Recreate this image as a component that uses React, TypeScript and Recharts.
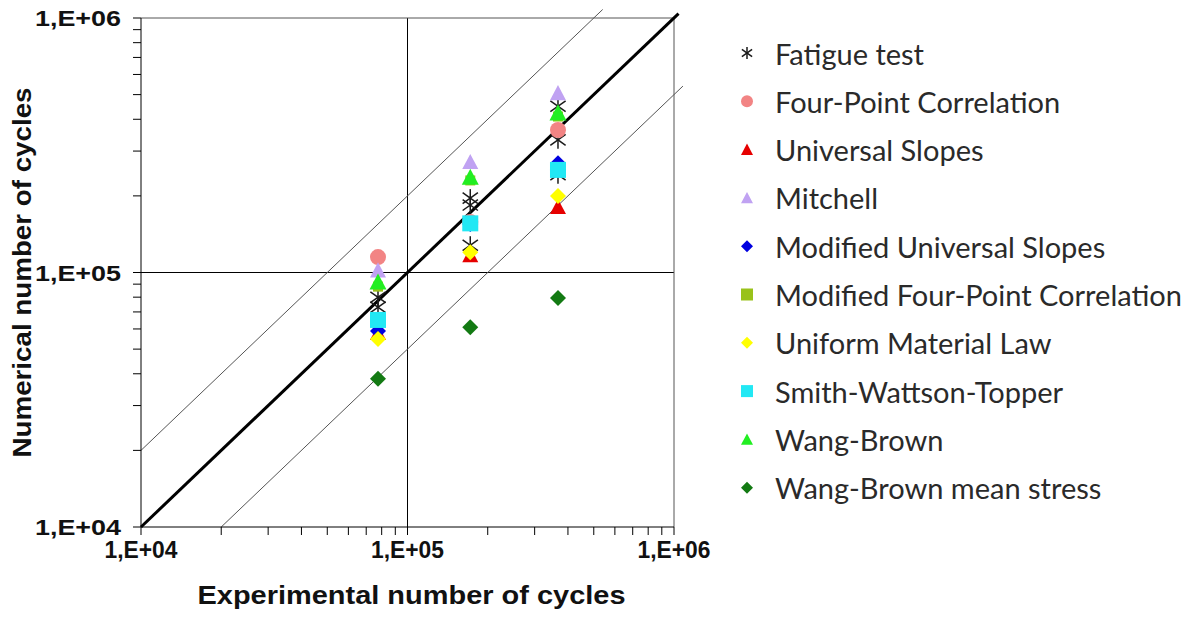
import React from 'react';
import {
  ScatterChart,
  Scatter,
  XAxis,
  YAxis,
  ReferenceLine,
  Legend,
  Label,
} from 'recharts';

// experimental life of the three load levels
const expCycles = [7.75e4, 1.72e5, 3.67e5];

// predicted lives, one value per load level
const fourPoint = [1.15e5, 1.58e5, 3.63e5];
const universalSlopes = [5.8e4, 1.17e5, 1.81e5];
const mitchell = [1.02e5, 2.72e5, 5.07e5];
const modUniversalSlopes = [5.89e4, 1.55e5, 2.69e5];
const modFourPoint = [8.8e4, 2.3e5, 4.1e5];
const uniformMaterial = [5.48e4, 1.2e5, 2.0e5];
const swt = [6.51e4, 1.56e5, 2.53e5];
const wangBrown = [9.18e4, 2.37e5, 4.24e5];
const wangBrownMean = [3.82e4, 6.1e4, 7.94e4];

// fatigue test results (x = experimental level, y = specimen result)
const testX = [7.75e4, 7.75e4, 1.72e5, 1.72e5, 1.72e5, 3.67e5, 3.67e5, 3.67e5];
const testY = [8.0e4, 7.3e4, 1.96e5, 1.84e5, 1.28e5, 4.5e5, 3.32e5, 2.42e5];

// scatter band lines
const diagLine = [{ x: 1e4, y: 1e4 }, { x: 1.04e6, y: 1.04e6 }];
const upperLine = [{ x: 1e4, y: 2e4 }, { x: 5.4e5, y: 1.08e6 }];
const lowerLine = [{ x: 2e4, y: 1e4 }, { x: 1.08e6, y: 5.4e5 }];

const majorTicks = [1e4, 1e5, 1e6];
const tickLabels = ['1,E+04', '1,E+05', '1,E+06'];
const minorTicks = [2e4, 3e4, 4e4, 5e4, 6e4, 7e4, 8e4, 9e4, 2e5, 3e5, 4e5, 5e5, 6e5, 7e5, 8e5, 9e5];
const allTicks = [...majorTicks, ...minorTicks].sort((a, b) => a - b);

const toPoints = (xs: number[], ys: number[]) => ys.map((y, i) => ({ x: xs[i], y }));

type Kind = 'star' | 'circle' | 'triangle' | 'diamond' | 'square';

const series: { name: string; kind: Kind; color: string; size: number; data: { x: number; y: number }[] }[] = [
  { name: 'Fatigue test', kind: 'star', color: '#1a1a1a', size: 9, data: toPoints(testX, testY) },
  { name: 'Four-Point Correlation', kind: 'circle', color: '#f28484', size: 8, data: toPoints(expCycles, fourPoint) },
  { name: 'Universal Slopes', kind: 'triangle', color: '#e60000', size: 8, data: toPoints(expCycles, universalSlopes) },
  { name: 'Mitchell', kind: 'triangle', color: '#c0a2f2', size: 8, data: toPoints(expCycles, mitchell) },
  { name: 'Modified Universal Slopes', kind: 'diamond', color: '#0000e0', size: 8, data: toPoints(expCycles, modUniversalSlopes) },
  { name: 'Modified Four-Point Correlation', kind: 'square', color: '#99c21a', size: 5, data: toPoints(expCycles, modFourPoint) },
  { name: 'Uniform Material Law', kind: 'diamond', color: '#ffff00', size: 8, data: toPoints(expCycles, uniformMaterial) },
  { name: 'Smith-Wattson-Topper', kind: 'square', color: '#22e8f4', size: 8, data: toPoints(expCycles, swt) },
  { name: 'Wang-Brown', kind: 'triangle', color: '#22ee22', size: 8.5, data: toPoints(expCycles, wangBrown) },
  { name: 'Wang-Brown mean stress', kind: 'diamond', color: '#137a13', size: 8, data: toPoints(expCycles, wangBrownMean) },
];

const marker = (kind: Kind, color: string, cx: number, cy: number, s: number) => {
  switch (kind) {
    case 'star':
      return (
        <g stroke={color} strokeWidth={1.5}>
          <line x1={cx} y1={cy - s} x2={cx} y2={cy + s} />
          <line x1={cx - s * 0.85} y1={cy - s * 0.6} x2={cx + s * 0.85} y2={cy + s * 0.6} />
          <line x1={cx - s * 0.85} y1={cy + s * 0.6} x2={cx + s * 0.85} y2={cy - s * 0.6} />
        </g>
      );
    case 'circle':
      return <circle cx={cx} cy={cy} r={s} fill={color} />;
    case 'triangle':
      return <polygon points={`${cx},${cy - s} ${cx - s},${cy + s * 0.9} ${cx + s},${cy + s * 0.9}`} fill={color} />;
    case 'diamond':
      return <polygon points={`${cx},${cy - s} ${cx + s},${cy} ${cx},${cy + s} ${cx - s},${cy}`} fill={color} />;
    default:
      return <rect x={cx - s} y={cy - s} width={s * 2} height={s * 2} fill={color} />;
  }
};

const renderLegend = () => (
  <svg width={465} height={500}>
    {series.map((s, i) => (
      <g key={s.name}>
        {marker(s.kind, s.color, 17, 23 + i * 48.3, 6)}
        <text
          x={45}
          y={23 + i * 48.3}
          dominantBaseline="central"
          fontFamily="Lato, 'Open Sans', sans-serif"
          fontSize={29}
          fill="#2a2a2a"
        >
          {s.name}
        </text>
      </g>
    ))}
  </svg>
);

const XTick = ({ x, y, payload }: any) => {
  const idx = majorTicks.indexOf(payload.value);
  if (idx < 0) return null;
  return (
    <text x={x} y={y + 21} textAnchor="middle" fontFamily="'Liberation Sans', Arial, sans-serif" fontWeight="bold" fontSize={23} fill="#111" textLength={73} lengthAdjust="spacingAndGlyphs">
      {tickLabels[idx]}
    </text>
  );
};

const YTick = ({ x, y, payload }: any) => {
  const idx = majorTicks.indexOf(payload.value);
  if (idx < 0) return null;
  return (
    <text x={x - 10} y={y} dy={8} textAnchor="end" fontFamily="'Liberation Sans', Arial, sans-serif" fontWeight="bold" fontSize={22} fill="#111" textLength={86} lengthAdjust="spacingAndGlyphs">
      {tickLabels[idx]}
    </text>
  );
};

export default function App() {
  return (
    <div style={{ position: 'absolute', left: 0, top: 0, width: 1195, height: 621, background: '#fff' }}>
      <ScatterChart width={1195} height={621} margin={{ top: 18, right: 521, bottom: 0, left: 0 }}>
        <XAxis
          dataKey="x"
          type="number"
          scale="log"
          domain={[1e4, 1e6]}
          allowDataOverflow
          ticks={allTicks}
          interval={0}
          height={94}
          tickSize={8}
          stroke="#000"
          tick={<XTick />}
        >
          <Label
            content={({ viewBox }: any) => (
              <text
                x={viewBox.x + viewBox.width / 2 + 4}
                y={604}
                textAnchor="middle"
                fontFamily="'Liberation Sans', Arial, sans-serif"
                fontWeight="bold"
                fontSize={26}
                fill="#111"
                textLength={428}
                lengthAdjust="spacingAndGlyphs"
              >
                Experimental number of cycles
              </text>
            )}
          />
        </XAxis>
        <YAxis
          dataKey="y"
          type="number"
          scale="log"
          domain={[1e4, 1e6]}
          allowDataOverflow
          ticks={allTicks}
          interval={0}
          width={141}
          tickSize={8}
          stroke="#000"
          tick={<YTick />}
        >
          <Label
            content={({ viewBox }: any) => {
              const cy = viewBox.y + viewBox.height / 2;
              return (
                <text
                  x={22}
                  y={cy}
                  transform={`rotate(-90, 22, ${cy})`}
                  textAnchor="middle"
                  dominantBaseline="central"
                  fontFamily="'Liberation Sans', Arial, sans-serif"
                  fontWeight="bold"
                  fontSize={26}
                  fill="#111"
                  textLength={370}
                  lengthAdjust="spacingAndGlyphs"
                >
                  Numerical number of cycles
                </text>
              );
            }}
          />
        </YAxis>
        <ReferenceLine x={1e5} stroke="#000" strokeWidth={1} />
        <ReferenceLine y={1e5} stroke="#000" strokeWidth={1} />
        <ReferenceLine x={1e6} stroke="#555" strokeWidth={1} />
        <ReferenceLine y={1e6} stroke="#555" strokeWidth={1} />
        <ReferenceLine segment={upperLine} stroke="#555" strokeWidth={1} ifOverflow="visible" />
        <ReferenceLine segment={lowerLine} stroke="#555" strokeWidth={1} ifOverflow="visible" />
        <ReferenceLine segment={diagLine} stroke="#000" strokeWidth={3} ifOverflow="visible" />
        {series.map((s) => (
          <Scatter
            key={s.name}
            name={s.name}
            data={s.data}
            isAnimationActive={false}
            shape={(p: any) => marker(s.kind, s.color, p.cx, p.cy, s.size)}
          />
        ))}
        <Legend
          layout="vertical"
          align="center"
          verticalAlign="middle"
          content={renderLegend}
          wrapperStyle={{ position: 'absolute', left: 730, top: 30, width: 465, height: 500 }}
        />
      </ScatterChart>
    </div>
  );
}
